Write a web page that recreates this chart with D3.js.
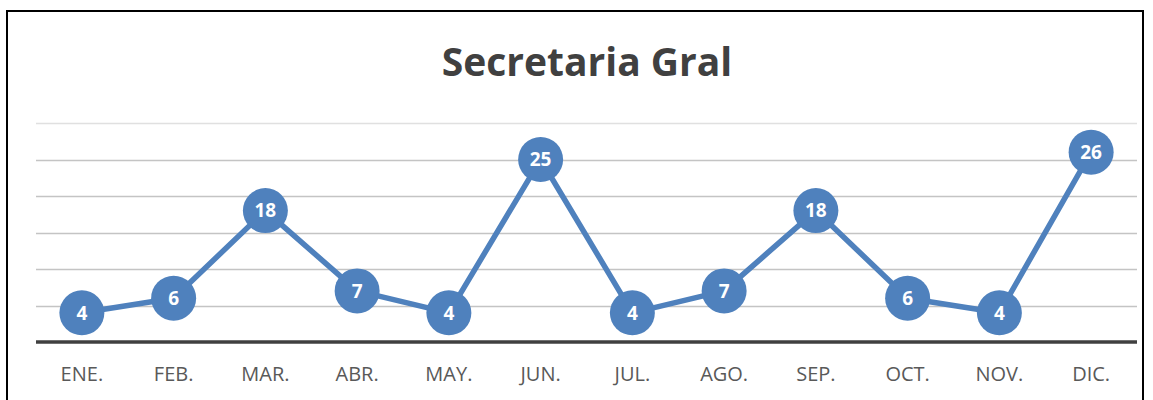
<!DOCTYPE html>
<html><head><meta charset="utf-8">
<script src="https://cdn.jsdelivr.net/npm/d3@7"></script>
<style>body{margin:0;background:#fff;}svg{display:block;}</style>
</head><body>
<svg id="chart" width="1153" height="400"></svg>
<script>
const categories = ["ENE.","FEB.","MAR.","ABR.","MAY.","JUN.","JUL.","AGO.","SEP.","OCT.","NOV.","DIC."];
const values = [4,6,18,7,4,25,4,7,18,6,4,26];
const yTicks = [0,5,10,15,20,25,30];
const title = "Secretaria Gral";

(function(){
const svg = d3.select("#chart");
const pLeft = 36, pRight = 1137, pTop = 123, pBottom = 342;
const blue = "#4F81BD";

svg.append("rect").attr("x",7).attr("y",11).attr("width",1136).attr("height",400)
  .attr("fill","#fff").attr("stroke","#000").attr("stroke-width",2);

svg.append("text").attr("x",587).attr("y",76).attr("text-anchor","middle")
  .attr("font-family","'Open Sans', sans-serif").attr("font-weight","bold")
  .attr("font-size",39).attr("fill","#404040").text(title);

const x = d3.scaleBand().domain(categories).range([pLeft,pRight]);
const y = d3.scaleLinear().domain([0,30]).range([pBottom,pTop]);

svg.append("g").selectAll("line").data(yTicks.filter(d=>d>0)).join("line")
  .attr("x1",pLeft).attr("x2",pRight).attr("y1",d=>Math.round(y(d))+0.5).attr("y2",d=>Math.round(y(d))+0.5)
  .attr("stroke",d=>d===30?"#e0e0e0":"#c4c4c4").attr("stroke-width",1.3);

svg.append("line").attr("x1",pLeft).attr("x2",pRight).attr("y1",y(0)).attr("y2",y(0))
  .attr("stroke","#404040").attr("stroke-width",3.5);

const xa = svg.append("g").attr("transform",`translate(0,${pBottom})`)
  .call(d3.axisBottom(x).tickSize(0).tickPadding(0));
xa.select(".domain").remove();
xa.selectAll("text").attr("y",39).attr("dy",0).attr("font-family","'Open Sans', sans-serif")
  .attr("font-size",20).attr("fill","#595959");

const cx = d => x(d.c)+x.bandwidth()/2;
const data = categories.map((c,i)=>({c,v:values[i]}));
svg.append("path").datum(data)
  .attr("d",d3.line().x(cx).y(d=>y(d.v)))
  .attr("fill","none").attr("stroke",blue).attr("stroke-width",5.5).attr("stroke-linejoin","round");

svg.append("g").selectAll("circle").data(data).join("circle")
  .attr("cx",cx).attr("cy",d=>y(d.v)).attr("r",22.5).attr("fill",blue);

svg.append("g").selectAll("text").data(data).join("text")
  .attr("x",cx).attr("y",d=>y(d.v)+6.8).attr("text-anchor","middle")
  .attr("font-family","'Open Sans', sans-serif").attr("font-weight","bold")
  .attr("font-size",19).attr("fill","#fff").text(d=>d.v);
})();
</script>
</body></html>
